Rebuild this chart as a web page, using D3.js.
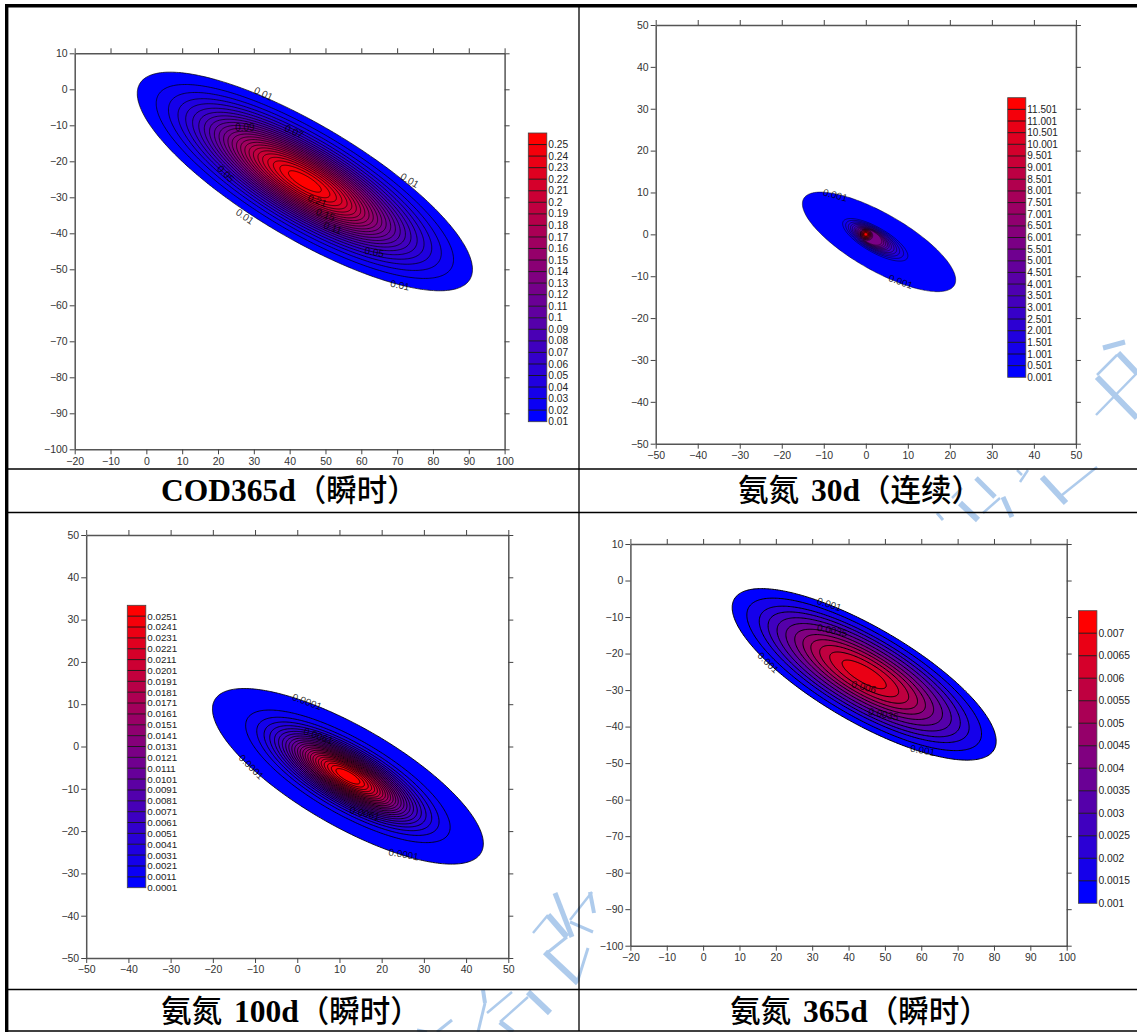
<!DOCTYPE html>
<html lang="zh"><head><meta charset="utf-8">
<script src="https://cdn.jsdelivr.net/npm/d3@7"></script>
<style>html,body{margin:0;padding:0;background:#fff}svg{display:block}.cap{text-spacing-trim:space-all;word-spacing:4px}</style>
</head><body><svg id="c" width="1137" height="1032"></svg>
<script>
// --- Panel 1: COD365d
const codLevels=["0.01","0.02","0.03","0.04","0.05","0.06","0.07","0.08","0.09","0.1","0.11","0.12","0.13","0.14","0.15","0.16","0.17","0.18","0.19","0.2","0.21","0.22","0.23","0.24","0.25"];
const codSizes=[1,.887,.814,.757,.711,.670,.633,.600,.569,.540,.512,.485,.459,.434,.408,.383,.358,.333,.307,.280,.252,.221,.188,.149,.098];
const codEllipse=[44.25,-25.6,53.5,15.8,-30.5];
const codLabels=[["0.01",32.7,-1.2,25],["0.07",41.2,-11.7,25],["0.09",27.5,-10.7,0],["0.05",22.2,-23.4,45],["0.01",27.5,-35.3,35],["0.01",73.5,-25.3,30],["0.01",70.8,-54.4,12],["0.05",63.6,-45.2,10],["0.21",47.7,-30.9,20],["0.15",50,-34.8,20],["0.11",52,-38.5,20]];
// --- Panel 2: ammonia 30d. Rings: semi-major, semi-minor, centre x, centre y
const nh30Levels=["0.001","0.501","1.001","1.501","2.001","2.501","3.001","3.501","4.001","4.501","5.001","5.501","6.001","6.501","7.001","7.501","8.001","8.501","9.001","9.501","10.001","10.501","11.001","11.501"];
const nh30Major=[20.7,8.8,7.8,6.9,6.2,5.6,5.0,4.5,4.1,3.7,3.3,2.9,1.5,1.38,1.28,1.18,1.08,.98,.88,.78,.68,.58,.5,.42];
const nh30Minor=[6.76,2.95,2.7,2.5,2.3,2.15,2.0,1.85,1.75,1.65,1.55,1.45,1.25,1.18,1.1,1.02,.95,.88,.8,.72,.63,.54,.46,.38];
const nh30CentreX=[3.15,2.25,2.1,1.95,1.85,1.75,1.65,1.55,1.5,1.4,1.3,1.2,.2,.1,.05,0,0,0,0,0,0,0,0,0];
const nh30CentreY=[-1.8,-1.3,-1.2,-1.12,-1.05,-1,-.95,-.9,-.85,-.8,-.75,-.68,-.1,-.05,0,0,0,0,0,0,0,0,0,0];
const nh30Angle=-30;
const nh30Labels=[["0.001",-7.3,9.4,15],["0.001",8.3,-11.3,20]];
// --- Panel 3: ammonia 100d
const nh100Levels=["0.0001","0.0011","0.0021","0.0031","0.0041","0.0051","0.0061","0.0071","0.0081","0.0091","0.0101","0.0111","0.0121","0.0131","0.0141","0.0151","0.0161","0.0171","0.0181","0.0191","0.0201","0.0211","0.0221","0.0231","0.0241","0.0251"];
const nh100Sizes=[1,.755,.673,.619,.577,.542,.512,.484,.459,.436,.414,.393,.372,.353,.334,.315,.296,.277,.258,.238,.218,.197,.175,.150,.122,.088];
const nh100Ellipse=[12,-7.05,36.36,11.78,-29.8];
const nh100Labels=[["0.0001",2.3,10.6,20],["0.0001",-10.9,-4.8,45],["0.0001",25.2,-25.5,10],["0.0061",5,2.5,20],["0.0061",16,-15.8,15]];
// --- Panel 4: ammonia 365d (contours stop at 0.0065; 0.007 is legend-only)
const nh365Levels=["0.001","0.0015","0.002","0.0025","0.003","0.0035","0.004","0.0045","0.005","0.0055","0.006","0.0065","0.007"];
const nh365Sizes=[1,.889,.795,.728,.66,.593,.526,.464,.404,.337,.261,.167];
const nh365Ellipse=[44.3,-25.7,41.25,12.98,-30];
const nh365Labels=[["0.001",34.7,-6.5,18],["0.0035",35.5,-13.6,12],["0.001",17.9,-22.5,45],["0.006",44.2,-29.1,15],["0.0035",49.6,-36.6,12],["0.001",60.4,-46.5,10]];
// --- Captions
const captions=["COD365d（瞬时）","氨氮 30d（连续）","氨氮 100d（瞬时）","氨氮 365d（瞬时）"];
const ticksWide=d3.range(-20,101,10), ticksWideY=d3.range(-100,11,10), ticksSquare=d3.range(-50,51,10);

const svg=d3.select("#c");
svg.append("rect").attr("width",1137).attr("height",1032).attr("fill","#fff");

// watermark strokes behind the table
const wm=[[1103,348,1125,342,5],[1118,353,1137,373,6],[1117,355,1097,375,2.5],[1097,377,1137,418,6],[1137,373,1096,415,2.5],
[1042,477,1066,503,6],[1062,495,1097,467,2.5],[1020,482,1028,470,2.5],[1017,470,1022,475,2.5],[976,478,995,497,5],[1003,497,1012,517,5],[1000,498,983,513,2.5],[960,503,978,520,6],[937,513,943,520,3],[952,498,962,488,2.5],
[555,893,572,937,5],[548,915,567,937,6],[548,915,533,933,2.5],[567,937,547,953,3],[545,952,578,983,6],[588,948,578,980,3],[593,932,570,922,3],[592,892,570,920,2.5],[590,892,594,913,4],
[483,990,485,1003,4],[485,1003,478,1032,3],[512,992,487,1013,2.5],[528,992,550,1013,6],[500,1022,528,997,2.5],[500,1022,513,1032,5],[452,1020,437,1032,3],[417,1030,427,1032,3]];
svg.append("g").selectAll("line").data(wm).join("line")
  .attr("x1",d=>d[0]).attr("y1",d=>d[1]).attr("x2",d=>d[2]).attr("y2",d=>d[3])
  .attr("stroke","#aecbec").attr("stroke-width",d=>d[4]);

const ellipsePath=(x,y,[cx,cy,a,b,deg])=>{
  const th=deg*Math.PI/180;
  return d3.line().curve(d3.curveCardinalClosed.tension(0.5))(d3.range(0,360,4).map(t=>{
    const r=t*Math.PI/180, u=a*Math.cos(r), v=b*Math.sin(r);
    return [x(cx+u*Math.cos(th)-v*Math.sin(th)), y(cy+u*Math.sin(th)+v*Math.cos(th))];
  }));
};

function panel({xd,yd,xt,yt,xr,yr,rings,levels,labels,leg,legFont,sw}){
  const x=d3.scaleLinear().domain(xd).range(xr), y=d3.scaleLinear().domain(yd).range(yr);
  const g=svg.append("g");
  const n=levels.length;
  const color=d3.scaleLinear().domain([0,n-1]).range(["#0000ff","#ff0000"]);
  g.append("g").selectAll("path").data(rings).join("path")
    .attr("d",d=>ellipsePath(x,y,d)).attr("fill",(d,i)=>color(i))
    .attr("stroke","#000").attr("stroke-width",sw);
  g.append("g").selectAll("text").data(labels).join("text")
    .attr("transform",d=>`translate(${x(d[1])},${y(d[2])}) rotate(${d[3]})`)
    .attr("text-anchor","middle").attr("dy","0.35em")
    .attr("font-family","Liberation Sans").attr("font-size",10).attr("fill","#000").attr("fill-opacity",.8).text(d=>d[0]);
  const axes=[
    [d3.axisBottom(x).tickValues(xt).tickSize(5).tickPadding(3),`translate(0,${yr[0]})`,true],
    [d3.axisTop(x).tickValues(xt).tickSize(5),`translate(0,${yr[1]})`,false],
    [d3.axisLeft(y).tickValues(yt).tickSize(5).tickPadding(2),`translate(${xr[0]},0)`,true],
    [d3.axisRight(y).tickValues(yt).tickSize(5),`translate(${xr[1]},0)`,false]];
  axes.forEach(([ax,tr,lab])=>{
    ax.tickSizeOuter(0);
    if(!lab) ax.tickFormat("");
    const a=g.append("g").attr("transform",tr).call(ax);
    a.selectAll(".domain").attr("stroke","#555").attr("stroke-width",1.5);
    a.selectAll("line").attr("stroke","#444").attr("stroke-width",1);
    a.selectAll("text").attr("font-family","Liberation Sans").attr("font-size",10.5).attr("fill","#333");
  });
  // legend
  const ly=d3.scaleLinear().domain([0,n]).range([leg[2],leg[3]]);
  const lg=g.append("g");
  lg.selectAll("rect").data(levels).join("rect")
    .attr("x",leg[0]).attr("width",leg[1]-leg[0])
    .attr("y",(d,i)=>ly(i+1)).attr("height",(d,i)=>ly(i)-ly(i+1))
    .attr("fill",(d,i)=>color(i));
  lg.selectAll("line").data(levels.slice(1)).join("line")
    .attr("x1",leg[0]).attr("x2",leg[1]).attr("y1",(d,i)=>ly(i+1)).attr("y2",(d,i)=>ly(i+1))
    .attr("stroke","#111").attr("stroke-width",.9);
  lg.append("rect").attr("x",leg[0]).attr("y",leg[3]).attr("width",leg[1]-leg[0]).attr("height",leg[2]-leg[3])
    .attr("fill","none").attr("stroke","#444").attr("stroke-width",.8);
  lg.selectAll("text").data(levels).join("text")
    .attr("x",leg[1]+1.5).attr("y",(d,i)=>ly(i)).attr("dy","0.35em")
    .attr("font-family","Liberation Sans").attr("font-size",legFont).attr("fill","#222").text(d=>d);
}

const scaled=(e,sizes)=>sizes.map(s=>[e[0],e[1],e[2]*s,e[3]*s,e[4]]);
panel({xd:[-20,100],yd:[-100,10],xt:ticksWide,yt:ticksWideY,xr:[74.7,504.6],yr:[449.3,53.3],sw:.7,
  rings:scaled(codEllipse,codSizes),levels:codLevels,labels:codLabels,leg:[528.3,546.8,421.7,133],legFont:10.2});
panel({xd:[-50,50],yd:[-50,50],xt:ticksSquare,yt:ticksSquare,xr:[655.7,1075.9],yr:[443.7,25],sw:.5,
  rings:nh30Levels.map((d,i)=>[nh30CentreX[i],nh30CentreY[i],nh30Major[i],nh30Minor[i],nh30Angle]),levels:nh30Levels,labels:nh30Labels,leg:[1007.7,1025.8,377.3,97.7],legFont:10});
panel({xd:[-50,50],yd:[-50,50],xt:ticksSquare,yt:ticksSquare,xr:[86.2,508.3],yr:[958,535],sw:.85,
  rings:scaled(nh100Ellipse,nh100Sizes),levels:nh100Levels,labels:nh100Labels,leg:[127.3,145.8,887.7,605.3],legFont:9.8});
panel({xd:[-20,100],yd:[-100,10],xt:ticksWide,yt:ticksWideY,xr:[630.4,1066.7],yr:[945.7,544],sw:1,
  rings:scaled(nh365Ellipse,nh365Sizes),levels:nh365Levels,labels:nh365Labels,leg:[1078.4,1096.9,903.3,610.7],legFont:10.3});

// table rules
const rules=[[5,469,1137,469,1.3],[5,512.5,1137,512.5,1.3],[5,989.5,1137,989.5,1.3],[5,1031,1137,1031,1.3],[579,7,579,1031,1.3],[5,5.8,1137,5.8,3.4],[6.7,4,6.7,1032,3.4]];
svg.append("g").selectAll("line").data(rules).join("line")
  .attr("x1",d=>d[0]).attr("y1",d=>d[1]).attr("x2",d=>d[2]).attr("y2",d=>d[3])
  .attr("stroke","#000").attr("stroke-width",d=>d[4]);

const capPos=[[161,501],[738,501],[161,1022],[730,1022]];
const isCjk=d=>/[\u3000-\u9fff\uff00-\uffef]/.test(d);
const capText=svg.append("g").selectAll("text").data(captions).join("text").attr("class","cap")
  .attr("x",(d,i)=>capPos[i][0]).attr("y",(d,i)=>capPos[i][1]).attr("fill","#000");
capText.selectAll("tspan").data(d=>d.match(/[\u3000-\u9fff\uff00-\uffef]+|[^\u3000-\u9fff\uff00-\uffef]+/g)).join("tspan")
  .attr("font-family",d=>isCjk(d)?"'Noto Sans CJK SC'":"'Liberation Serif'")
  .attr("font-weight",d=>isCjk(d)?500:700)
  .attr("font-size",d=>isCjk(d)?30.5:31.5)
  .text(d=>d);
</script></body></html>
